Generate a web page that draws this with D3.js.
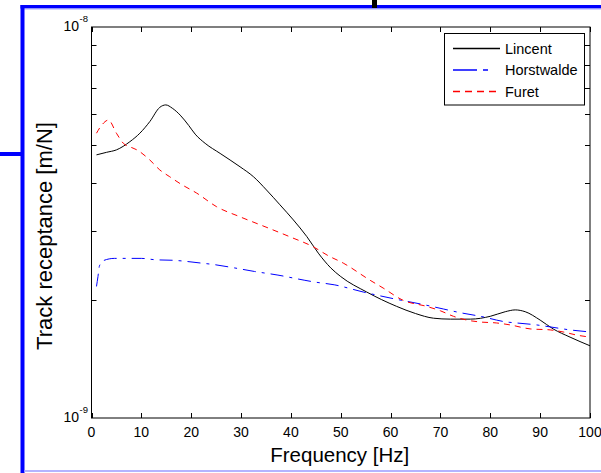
<!DOCTYPE html>
<html>
<head>
<meta charset="utf-8">
<script src="https://cdn.jsdelivr.net/npm/d3@7"></script>
<style>
  body { margin: 0; background: #fff; }
  svg { display: block; font-family: "Liberation Sans", Arial, sans-serif; }
</style>
</head>
<body>
<div id="chart"></div>
<script>
// values in units of 1e-9 m/N
const lincentFreq = [1, 3, 5, 7.7, 9.7, 11.7, 13.7, 14.9, 16.2, 17.8, 19.5, 20.8, 22.8, 25.8, 29.8, 32.5, 35.1, 37.8, 40.5, 43.2, 45.5, 48, 50, 55.2, 61.2, 65, 68.6, 72, 76, 80, 83, 85, 87, 90, 92.6, 96, 100];
const lincentVal  = [4.71, 4.78, 4.85, 5.09, 5.35, 5.73, 6.23, 6.32, 6.2, 5.95, 5.6, 5.32, 5.04, 4.75, 4.39, 4.14, 3.83, 3.51, 3.21, 2.91, 2.64, 2.42, 2.30, 2.10, 1.93, 1.85, 1.80, 1.79, 1.79, 1.82, 1.87, 1.89, 1.87, 1.78, 1.69, 1.61, 1.53];

const horstFreq = [1, 1.3, 1.6, 2.5, 4.6, 10, 12.7, 16.7, 22, 24.4, 28.7, 32.7, 37.4, 42.8, 44.5, 48.8, 54.5, 60.5, 66.6, 70.6, 73.9, 78, 83.3, 85.3, 89.3, 92, 96, 100];
const horstVal  = [2.17, 2.3, 2.45, 2.53, 2.56, 2.56, 2.54, 2.53, 2.49, 2.47, 2.42, 2.37, 2.32, 2.25, 2.23, 2.19, 2.10, 2.02, 1.95, 1.90, 1.86, 1.82, 1.76, 1.75, 1.73, 1.71, 1.68, 1.66];

const furetFreq = [1, 2, 3.4, 5, 6.4, 8, 9.1, 11.7, 13.7, 15.7, 18, 21.1, 25.1, 29.8, 35.5, 40, 44.5, 47.5, 50.5, 55.9, 58.5, 62.5, 67.2, 70, 72.6, 75.3, 78, 81.3, 84, 88, 92, 94.6, 97.3, 100];
const furetVal  = [5.35, 5.6, 5.78, 5.35, 5.04, 4.92, 4.85, 4.57, 4.31, 4.14, 3.96, 3.76, 3.47, 3.27, 3.06, 2.90, 2.74, 2.60, 2.49, 2.25, 2.15, 2.00, 1.93, 1.88, 1.82, 1.78, 1.76, 1.75, 1.73, 1.69, 1.68, 1.66, 1.63, 1.61];

const seriesNames = ["Lincent", "Horstwalde", "Furet"];
const xTicks = [0, 10, 20, 30, 40, 50, 60, 70, 80, 90, 100];
const yMinorTicks = [2, 3, 4, 5, 6, 7, 8, 9];

const W = 601, H = 473;
const svg = d3.select("#chart").append("svg").attr("width", W).attr("height", H);

// slide frame bits around the figure
svg.append("rect").attr("x", 20.5).attr("y", 5).attr("width", W - 20.5).attr("height", 3.5).attr("fill", "#0000ff");
svg.append("rect").attr("x", 24).attr("y", 8.5).attr("width", W - 24).attr("height", 1).attr("fill", "#aaaaff");
svg.append("rect").attr("x", 20.5).attr("y", 5).attr("width", 4).attr("height", H - 5).attr("fill", "#0000ff");
svg.append("rect").attr("x", 0).attr("y", 152).attr("width", 24).attr("height", 4).attr("fill", "#0000ff");
svg.append("rect").attr("x", 24.5).attr("y", 470).attr("width", W - 24.5).attr("height", 2).attr("fill", "#b4b4ff");
svg.append("rect").attr("x", 372).attr("y", 0).attr("width", 5).attr("height", 8).attr("fill", "#000");

const L = 91.5, R = 590, T = 27, B = 418;
const x = d3.scaleLinear().domain([0, 100]).range([L, R]);
const y = d3.scaleLog().domain([1e-9, 1e-8]).range([B, T]);

// box
svg.append("rect").attr("x", L).attr("y", T).attr("width", R - L).attr("height", B - T)
    .attr("fill", "none").attr("stroke", "#000").attr("stroke-width", 1);

// x ticks (inside, top and bottom)
xTicks.forEach(t => {
    let px = Math.round(x(t)) + 0.5;
    svg.append("line").attr("x1", px).attr("x2", px).attr("y1", B).attr("y2", B - 5).attr("stroke", "#000");
    svg.append("line").attr("x1", px).attr("x2", px).attr("y1", T).attr("y2", T + 5).attr("stroke", "#000");
    svg.append("text").attr("x", x(t)).attr("y", 436.5).attr("text-anchor", "middle")
        .attr("font-size", "14px").text(t);
});

// y minor ticks, left and right
yMinorTicks.forEach(m => {
    let py = Math.round(y(m * 1e-9)) + 0.5;
    svg.append("line").attr("x1", L).attr("x2", L + 5).attr("y1", py).attr("y2", py).attr("stroke", "#000");
    svg.append("line").attr("x1", R).attr("x2", R - 5).attr("y1", py).attr("y2", py).attr("stroke", "#000");
});

// y decade labels
[[1e-8, "-8"], [1e-9, "-9"]].forEach(([v, ex]) => {
    svg.append("text").attr("x", 79).attr("y", y(v) + 4).attr("text-anchor", "end")
        .attr("font-size", "14px").text("10");
    svg.append("text").attr("x", 79.5).attr("y", y(v) - 5).attr("font-size", "9.5px").text(ex);
});

// axis labels
svg.append("text").attr("x", x(50) - 1).attr("y", 461.5).attr("text-anchor", "middle")
    .attr("font-size", "20.5px").text("Frequency [Hz]");
svg.append("text").attr("transform", "translate(51.5,236) rotate(-90)").attr("text-anchor", "middle")
    .attr("font-size", "22px").text("Track receptance [m/N]");

// curves
const line = d3.line()
    .x(d => x(d[0]))
    .y(d => y(d[1] * 1e-9))
    .curve(d3.curveMonotoneX);

const series = [
    {name: seriesNames[0], data: d3.zip(lincentFreq, lincentVal), color: "#000000", dash: null, legendDash: null},
    {name: seriesNames[1], data: d3.zip(horstFreq, horstVal), color: "#0000ff", dash: "13,6,3,6", legendDash: "24,6,5"},
    {name: seriesNames[2], data: d3.zip(furetFreq, furetVal), color: "#ff0000", dash: "6,5", legendDash: "7,5"}
];

series.forEach(s => {
    svg.append("path").datum(s.data)
        .attr("d", line)
        .attr("fill", "none")
        .attr("stroke", s.color)
        .attr("stroke-width", 1)
        .attr("stroke-dasharray", s.dash);
});

// legend
const lg = svg.append("g");
lg.append("rect").attr("x", 444.5).attr("y", 33.5).attr("width", 140).attr("height", 71.5)
    .attr("fill", "#fff").attr("stroke", "#000").attr("stroke-width", 1);
series.forEach((s, i) => {
    let ly = 48.5 + i * 21.5;
    lg.append("line").attr("x1", 453).attr("x2", 500).attr("y1", ly).attr("y2", ly)
        .attr("stroke", s.color).attr("stroke-width", 1.3).attr("stroke-dasharray", s.legendDash);
    lg.append("text").attr("x", 505).attr("y", ly + 5).attr("font-size", "14.5px").text(s.name);
});
</script>
</body>
</html>
